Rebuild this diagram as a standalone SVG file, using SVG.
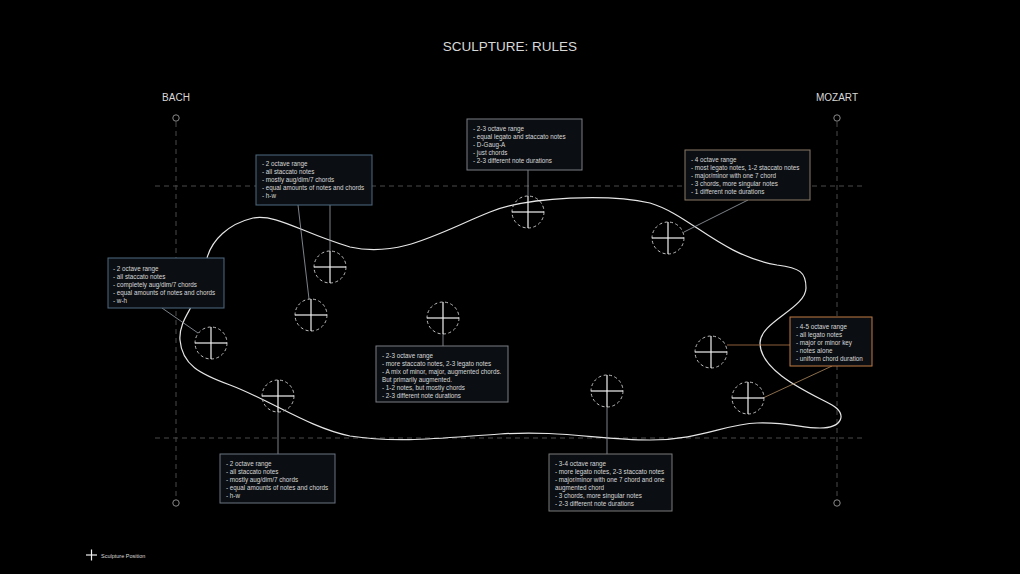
<svg xmlns="http://www.w3.org/2000/svg" width="1020" height="574" viewBox="0 0 1020 574">
<style>
text{font-family:"Liberation Sans",Arial,sans-serif;fill:#d8d8d8}
.t{font-size:6.3px}
.box{fill:#0b0f13;stroke-width:1}
.guide{stroke:#4a4a4a;stroke-width:1;stroke-dasharray:5 4;fill:none}
.lead{stroke:#9aa3ab;stroke-width:0.8;fill:none}
.ring{fill:none;stroke:#bfbfbf;stroke-width:1;stroke-dasharray:3 2.5}
.cross{stroke:#f2f2f2;stroke-width:1.2}
.end{fill:none;stroke:#8a8a8a;stroke-width:1}
</style>
<defs>
<g id="mk"><circle class="ring" r="16"/><line class="cross" x1="-16" y1="0" x2="16" y2="0"/><line class="cross" x1="0" y1="-16" x2="0" y2="16"/></g>
</defs>
<rect width="1020" height="574" fill="#000"/>
<text x="510" y="51" text-anchor="middle" font-size="13.5">SCULPTURE: RULES</text>
<text x="176" y="101" text-anchor="middle" font-size="10">BACH</text>
<text x="837" y="101" text-anchor="middle" font-size="10">MOZART</text>
<g id="guides">
<line class="guide" x1="176" y1="122" x2="176" y2="499"/>
<line class="guide" x1="837" y1="122" x2="837" y2="499"/>
<line class="guide" x1="155" y1="186" x2="866" y2="186"/>
<line class="guide" x1="155" y1="438" x2="866" y2="438"/>
<circle class="end" cx="176" cy="118" r="3.2"/>
<circle class="end" cx="176" cy="503" r="3.2"/>
<circle class="end" cx="837" cy="118" r="3.2"/>
<circle class="end" cx="837" cy="503" r="3.2"/>
</g>
<path id="sculpture" d="M190,309 C196,290 200,270 207,258 C212,240 228,224 253,218 C277,214 300,232 350,247 C400,258 440,232 490,212 C530,196 610,194 650,203 C690,215 720,255 777,265 C800,268 806,272 806,288 C806,308 760,322 760,343 C760,372 810,393 832,405 C848,414 842,428 820,428 C800,428 790,422 757,423 C725,424 700,440 650,440 C600,440 560,430 500,434 C450,437 400,444 350,436 C310,428 270,400 230,385 C200,374 182,365 180,340 C179,328 185,318 190,309 Z" fill="none" stroke="#e6e6e6" stroke-width="1.2"/>
<g id="connectors">
<line class="lead" x1="162" y1="308" x2="198" y2="333"/>
<line class="lead" x1="330" y1="205" x2="330" y2="251"/>
<line class="lead" x1="298" y1="205" x2="309" y2="299"/>
<line class="lead" x1="528" y1="170" x2="528" y2="196"/>
<line class="lead" x1="748" y1="200" x2="684" y2="232" stroke="#a89a88"/>
<line x1="727" y1="345" x2="790" y2="345" stroke="#b07a4a" stroke-width="0.8"/>
<line x1="832" y1="366" x2="763" y2="398" stroke="#b08a60" stroke-width="0.8"/>
<line class="lead" x1="443" y1="334" x2="443" y2="346"/>
<line class="lead" x1="278" y1="412" x2="278" y2="454"/>
<line class="lead" x1="607" y1="407" x2="607" y2="454"/>
</g>
<g id="markers">
<use href="#mk" x="211" y="343"/>
<use href="#mk" x="330" y="267"/>
<use href="#mk" x="311" y="315"/>
<use href="#mk" x="443" y="318"/>
<use href="#mk" x="528" y="212"/>
<use href="#mk" x="668" y="238"/>
<use href="#mk" x="711" y="352"/>
<use href="#mk" x="748" y="398"/>
<use href="#mk" x="607" y="391"/>
<use href="#mk" x="278" y="396"/>
</g>
<g id="boxA">
<rect class="box" x="108" y="258" width="116" height="50" stroke="#4f6b82"/>
<text class="t" x="113" y="271">- 2 octave range</text>
<text class="t" x="113" y="279">- all staccato notes</text>
<text class="t" x="113" y="287">- completely aug/dim/7 chords</text>
<text class="t" x="113" y="295">- equal amounts of notes and chords</text>
<text class="t" x="113" y="303">- w-h</text>
</g>
<g id="boxB">
<rect class="box" x="256" y="155" width="116" height="50" stroke="#4f6b82"/>
<text class="t" x="262" y="166">- 2 octave range</text>
<text class="t" x="262" y="174">- all staccato notes</text>
<text class="t" x="262" y="182">- mostly aug/dim/7 chords</text>
<text class="t" x="262" y="190">- equal amounts of notes and chords</text>
<text class="t" x="262" y="198">- h-w</text>
</g>
<g id="boxC">
<rect class="box" x="467" y="119" width="115" height="51" stroke="#7a7f84"/>
<text class="t" x="473" y="131">- 2-3 octave range</text>
<text class="t" x="473" y="139">- equal legato and staccato notes</text>
<text class="t" x="473" y="147">- D-Gaug-A</text>
<text class="t" x="473" y="155">- just chords</text>
<text class="t" x="473" y="163">- 2-3 different note durations</text>
</g>
<g id="boxD">
<rect class="box" x="685" y="150" width="125" height="50" stroke="#8a7a68"/>
<text class="t" x="691" y="162">- 4 octave range</text>
<text class="t" x="691" y="170">- most legato notes, 1-2 staccato notes</text>
<text class="t" x="691" y="178">- major/minor with one 7 chord</text>
<text class="t" x="691" y="186">- 3 chords, more singular notes</text>
<text class="t" x="691" y="194">- 1 different note durations</text>
</g>
<g id="boxE">
<rect class="box" x="790" y="317" width="82" height="49" stroke="#c27d42"/>
<text class="t" x="796" y="329">- 4-5 octave range</text>
<text class="t" x="796" y="337">- all legato notes</text>
<text class="t" x="796" y="345">- major or minor key</text>
<text class="t" x="796" y="353">- notes alone</text>
<text class="t" x="796" y="361">- uniform chord duration</text>
</g>
<g id="boxF">
<rect class="box" x="376" y="346" width="132" height="56" stroke="#7a7f84"/>
<text class="t" x="382" y="358">- 2-3 octave range</text>
<text class="t" x="382" y="366">- more staccato notes, 2-3 legato notes</text>
<text class="t" x="382" y="374">- A mix of minor, major, augmented chords.</text>
<text class="t" x="382" y="382">  But primarily augmented.</text>
<text class="t" x="382" y="390">- 1-2 notes, but mostly chords</text>
<text class="t" x="382" y="398">- 2-3 different note durations</text>
</g>
<g id="boxG">
<rect class="box" x="220" y="454" width="115" height="49" stroke="#6a7580"/>
<text class="t" x="226" y="466">- 2 octave range</text>
<text class="t" x="226" y="474">- all staccato notes</text>
<text class="t" x="226" y="482">- mostly aug/dim/7 chords</text>
<text class="t" x="226" y="490">- equal amounts of notes and chords</text>
<text class="t" x="226" y="498">- h-w</text>
</g>
<g id="boxH">
<rect class="box" x="549" y="454" width="123" height="57" stroke="#7a7a7a"/>
<text class="t" x="555" y="466">- 3-4 octave range</text>
<text class="t" x="555" y="474">- more legato notes, 2-3 staccato notes</text>
<text class="t" x="555" y="482">- major/minor with one 7 chord and one</text>
<text class="t" x="555" y="490">  augmented chord</text>
<text class="t" x="555" y="498">- 3 chords, more singular notes</text>
<text class="t" x="555" y="506">- 2-3 different note durations</text>
</g>
<g id="legend">
<line class="cross" x1="86" y1="555" x2="97" y2="555"/>
<line class="cross" x1="91.5" y1="549.5" x2="91.5" y2="560.5"/>
<text x="101" y="557.5" font-size="5.5">Sculpture Position</text>
</g>
</svg>
